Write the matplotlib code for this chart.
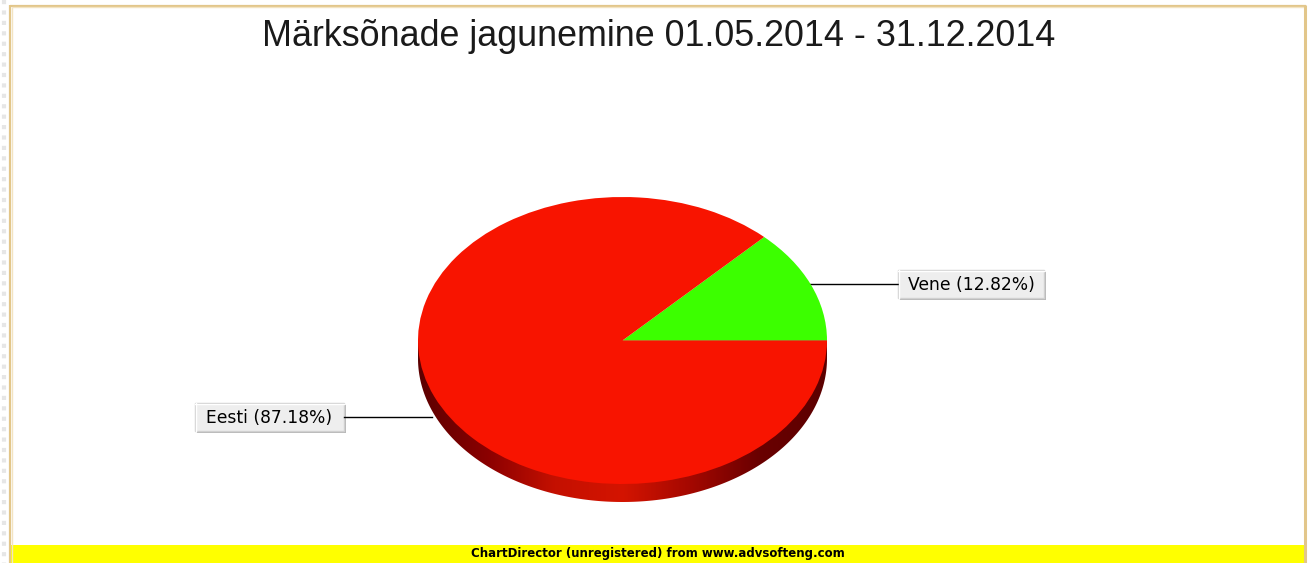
import numpy as np
import matplotlib
matplotlib.use("Agg")
import matplotlib.pyplot as plt
from matplotlib.patches import Rectangle, Polygon
from matplotlib.colors import LinearSegmentedColormap

# ---- data ----
title = "Märksõnade jagunemine 01.05.2014 - 31.12.2014"
categories = ["Vene", "Eesti"]
values = [12.82, 87.18]
colors = ["#3cff00", "#f81400"]
footer = "ChartDirector (unregistered) from www.advsofteng.com"

W, H = 1312, 563
fig = plt.figure(figsize=(W / 100, H / 100), dpi=100)
fig.patch.set_facecolor("white")

# background axes in pixel coordinates
bg = fig.add_axes([0, 0, 1, 1])
bg.set_xlim(0, W)
bg.set_ylim(H, 0)
bg.axis("off")

# frame
bg.plot([9.5, 9.5], [5, 563], color="#e2c68a", lw=1.6, solid_capstyle="butt")
bg.plot([11.5, 11.5], [7, 563], color="#f3e4c2", lw=1.0, solid_capstyle="butt")
bg.plot([9.5, 1306], [5.5, 5.5], color="#e2c68a", lw=1.6, solid_capstyle="butt")
bg.plot([11.5, 1304], [7.3, 7.3], color="#f3e4c2", lw=1.0, solid_capstyle="butt")
bg.plot([1305, 1305], [5, 563], color="#e2c68a", lw=2.2, solid_capstyle="butt")
bg.plot([4, 4], [0, 563], color="#e6e6e6", lw=3, linestyle=(0, (1.0, 1.5)))

# footer bar
bg.add_patch(Rectangle((11, 545), 1293, 18, facecolor="#ffff00", edgecolor="none"))
bg.text(658, 554, footer, ha="center", va="center", fontsize=8.5,
        fontweight="bold", family="DejaVu Sans", color="black")

# title
bg.text(659, 46, title, ha="center", va="baseline", fontsize=25.8,
        family="Liberation Sans", color="#1a1a1a")

# ---- pie (3D look) ----
cx, cy, rx, ry, depth = 622.5, 340.5, 204.5, 143.5, 18.0
d = depth / ry
pax = fig.add_axes([(cx - rx) / W, (H - (cy + ry + depth)) / H,
                    2 * rx / W, (2 * ry + depth) / H])
# side gradient
cmap = LinearSegmentedColormap.from_list(
    "side", ["#5c0000", "#8a0000", "#c41000", "#d41400", "#a40800", "#6a0000", "#5c0000"])
grad = np.linspace(0, 1, 256).reshape(1, -1)
img = pax.imshow(grad, extent=(-1, 1, -1 - d, 0), aspect="auto", cmap=cmap,
                 zorder=0.5, interpolation="bilinear")
th = np.linspace(np.pi, 2 * np.pi, 200)
pts = np.column_stack([np.cos(th), np.sin(th) - d])
pts = np.vstack([pts, [[1, 0], [-1, 0]]])
clip = Polygon(pts, closed=True, transform=pax.transData, facecolor="none", edgecolor="none")
pax.add_patch(clip)
img.set_clip_path(clip)

pax.pie(values, colors=colors, startangle=0, counterclock=True, radius=1,
        wedgeprops=dict(linewidth=0, antialiased=True))
pax.set_aspect("auto")
pax.set_xlim(-1, 1)
pax.set_ylim(-1 - d, 1)
pax.axis("off")

# ---- labels ----
boxes = {"Vene": (898, 270, 146, 28), "Eesti": (195, 403, 149, 28)}
total = sum(values)
start = 0.0
for cat, v in zip(categories, values):
    mid = np.deg2rad((start + v / 2) / total * 360)
    start += v
    ax_ = cx + rx * np.cos(mid)
    bx, by, bw, bh = boxes[cat]
    ly = by + bh / 2
    if np.cos(mid) >= 0:
        bg.plot([ax_ - 2, bx], [ly, ly], color="black", lw=1.0)
    else:
        bg.plot([bx + bw, ax_ - 2], [ly, ly], color="black", lw=1.0)
    # bevel box
    bg.add_patch(Rectangle((bx + 1.5, by + 1.5), bw, bh, facecolor="#b8b8b8", edgecolor="none"))
    bg.add_patch(Rectangle((bx, by), bw, bh, facecolor="#eeeeee", edgecolor="#d0d0d0", lw=1))
    bg.plot([bx, bx + bw], [by + 0.5, by + 0.5], color="white", lw=1)
    bg.plot([bx + 0.5, bx + 0.5], [by, by + bh], color="white", lw=1)
    bg.text(bx + bw / 2, ly + 1, f"{cat} ({v:.2f}%)", ha="center", va="center",
            fontsize=12.3, family="DejaVu Sans", color="black")

fig.savefig("out.png", dpi=100, facecolor="white")
